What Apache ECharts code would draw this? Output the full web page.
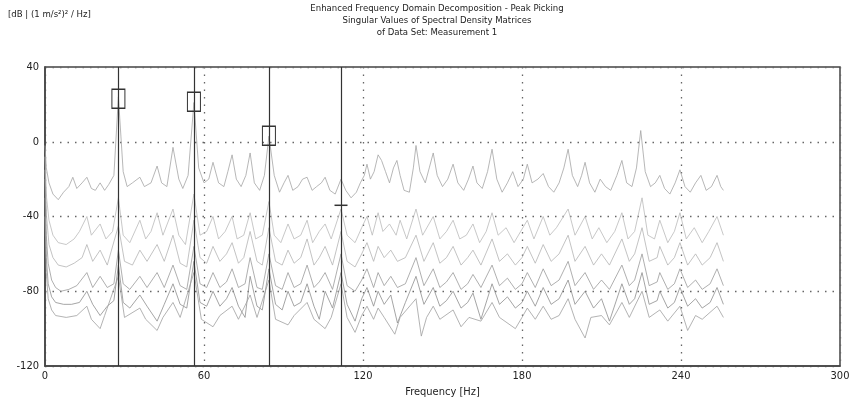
<!DOCTYPE html>
<html>
<head>
<meta charset="utf-8">
<script src="https://cdn.jsdelivr.net/npm/echarts@6.0.0/dist/echarts.min.js"></script>
<style>
  html, body { margin: 0; padding: 0; background: #fff; }
  #chart { width: 853px; height: 403px; }
</style>
</head>
<body>
<div id="chart"></div>
<script>
var FONT = '"Liberation Sans Narrow", "DejaVu Sans Condensed", "Liberation Sans", sans-serif';

var titleLines = [
  "Enhanced Frequency Domain Decomposition - Peak Picking",
  "Singular Values of Spectral Density Matrices",
  "of Data Set: Measurement 1"
];
var yUnit = "[dB | (1 m/s\u00b2)\u00b2 / Hz]";
var xName = "Frequency [Hz]";

// picked peaks [Hz, dB]
var pickedFreqs = [27.7, 56.2, 84.5, 111.7];
var pickedBoxes = [[27.7, 23], [56.2, 21.4], [84.5, 3.2]];
var pickedTick = [111.7, -34];

// singular values, [Hz, dB]
var sv1 = [[0,-2],[0.5,-14],[1.5,-22],[3,-28],[5,-31],[7,-27],[9,-24],[10.5,-19],[12,-25],[14,-22],[15.8,-19],[17.5,-25],[19,-26],[20.8,-22],[22.5,-26],[24,-23],[26,-18],[27.7,24],[29.5,-16],[31,-24],[33,-22],[35.8,-19],[37.5,-24],[40,-22],[42.3,-13],[44,-22],[46,-24],[48.3,-3],[50.5,-20],[52,-25],[54,-18],[56.2,21],[58,-14],[60,-22],[61.8,-20],[63.4,-11],[65.5,-22],[67.5,-24],[69,-16],[70.6,-7],[72.2,-20],[74,-24],[75.8,-18],[77.4,-6],[79,-22],[81,-26],[82.8,-18],[84.5,3],[86.5,-18],[88.5,-27],[90.2,-22],[91.7,-18],[93.5,-26],[95.5,-24],[97.2,-20],[98.9,-19],[100.8,-26],[102.5,-24],[104.3,-22],[105.7,-19],[107.5,-26],[109.5,-28],[111.7,-20],[113.5,-26],[115.5,-30],[117.5,-27],[119,-22],[120.5,-18],[121.5,-12],[122.8,-20],[124.2,-16],[125.7,-7],[127,-10],[128.5,-16],[130,-22],[131.5,-14],[132.8,-10],[134,-18],[135.5,-26],[137.5,-27],[139,-14],[140,-2],[141.5,-16],[143.5,-22],[145,-14],[146.5,-6],[148,-18],[150,-24],[152,-20],[154,-12],[155.8,-22],[158,-26],[159.8,-20],[161.5,-13],[163,-22],[165,-25],[167,-16],[168.7,-4],[170.5,-20],[172.5,-27],[174.5,-22],[176.5,-16],[178.5,-24],[180.5,-20],[182,-12],[183.8,-22],[186,-20],[188,-17],[190,-24],[192,-27],[194,-22],[195.8,-14],[197.4,-4],[199,-18],[201,-24],[202.5,-18],[203.8,-11],[205.5,-22],[207.5,-27],[209.5,-20],[211.5,-24],[213.5,-26],[215.8,-18],[217.7,-10],[219.5,-22],[221.5,-24],[223.2,-14],[224.8,6],[226.5,-16],[228.5,-24],[230.3,-22],[232,-18],[233.8,-25],[235.8,-28],[237.8,-22],[239.6,-15],[241.5,-24],[243.5,-27],[245.5,-22],[247.5,-18],[249.5,-26],[251.5,-24],[253.6,-18],[255,-24],[256,-26]];

var sv2 = [[0,-8],[0.6,-30],[1.5,-42],[3,-50],[5,-54],[8,-55],[11,-52],[13,-48],[15.8,-40],[17.5,-50],[20.8,-44],[23,-52],[25.5,-48],[27.7,-30],[29.5,-50],[32,-54],[35.8,-42],[38,-52],[40,-48],[42.3,-38],[44.5,-50],[48.3,-36],[50.5,-50],[53,-55],[56.2,-28],[58.5,-50],[61,-48],[63.4,-40],[65.5,-52],[68,-48],[70.6,-40],[72.5,-52],[75,-50],[77.4,-38],[79.5,-52],[82,-50],[84.5,-32],[86.5,-50],[89,-54],[91.7,-44],[94,-52],[96.5,-50],[98.9,-42],[101,-54],[103.5,-48],[105.7,-44],[108,-52],[111.7,-36],[114,-50],[117,-54],[119.5,-46],[121.5,-40],[123.5,-50],[125.7,-38],[127.5,-48],[130,-44],[132.5,-50],[134,-42],[136.5,-52],[140,-36],[142.5,-50],[146.5,-40],[149,-52],[151.5,-48],[154,-42],[156.5,-52],[159,-50],[161.5,-44],[164,-54],[166.5,-48],[168.7,-38],[171,-50],[174,-46],[177,-54],[179.5,-48],[182,-42],[184.5,-52],[188,-40],[190.5,-50],[193,-46],[197.4,-36],[200,-50],[203.8,-40],[206.5,-52],[209,-46],[212,-54],[215,-48],[217.7,-38],[220,-52],[222.5,-48],[225.3,-30],[227.5,-50],[230,-52],[232,-42],[235,-54],[237.5,-48],[239.6,-38],[242,-52],[245,-46],[248,-54],[250.5,-48],[253.6,-40],[256,-50]];

var sv3 = [[0,-15],[0.6,-40],[1.5,-55],[3,-62],[5,-66],[8,-67],[11,-65],[14,-62],[15.8,-55],[18,-64],[20.8,-58],[23.5,-66],[27.7,-45],[30,-64],[33,-66],[35.8,-58],[38.5,-64],[42.3,-55],[45,-64],[48.3,-50],[51,-65],[53.5,-67],[56.2,-42],[58.5,-62],[61,-65],[63.4,-56],[66,-64],[68.5,-60],[70.6,-54],[73,-65],[75,-62],[77.4,-48],[80,-64],[82,-66],[84.5,-46],[87,-64],[89.5,-66],[91.7,-58],[94,-65],[96.5,-62],[98.9,-52],[101.5,-66],[103.5,-62],[105.7,-56],[108.5,-66],[111.7,-48],[114,-64],[117,-67],[119.5,-60],[121.5,-54],[124,-64],[125.7,-56],[128,-62],[130.5,-58],[133,-64],[136,-62],[140,-50],[143,-64],[146.5,-54],[149,-65],[151.5,-62],[154,-56],[157,-66],[159.5,-62],[161.5,-58],[164.5,-66],[168.7,-52],[171.5,-64],[174.5,-60],[177.5,-66],[180,-62],[182,-56],[185,-65],[188,-55],[191,-64],[194,-60],[197.4,-50],[200,-64],[203.8,-56],[207,-66],[210,-60],[213,-66],[217.7,-52],[220.5,-64],[222.5,-60],[225.3,-46],[228,-64],[231,-62],[232,-56],[235,-66],[237.5,-62],[239.6,-54],[242.5,-66],[245.5,-60],[248,-66],[251,-62],[253.6,-54],[256,-64]];

var sv4 = [[0,-20],[0.5,-50],[1.2,-65],[2.5,-74],[4,-78],[6,-80],[9,-79],[12,-77],[15.8,-70],[18,-78],[20.8,-72],[23.5,-78],[26,-76],[27.7,-58],[29.5,-76],[32,-79],[35.8,-72],[38.5,-78],[42.3,-70],[45,-78],[48.3,-66],[51,-77],[53.5,-79],[56.2,-56],[58.5,-76],[61,-78],[63.4,-70],[66,-78],[68.5,-75],[70.6,-68],[73,-78],[75.5,-76],[77.4,-62],[80,-78],[82,-79],[84.5,-60],[87,-77],[89.5,-79],[91.7,-70],[94,-78],[96.5,-76],[98.9,-66],[101.5,-78],[103.5,-75],[105.7,-70],[108.5,-79],[111.7,-60],[114,-77],[117,-80],[119.5,-74],[121.5,-68],[124,-78],[125.7,-70],[128,-77],[130.5,-72],[133,-78],[136,-76],[140,-62],[143,-77],[146.5,-68],[149,-78],[151.5,-75],[154,-70],[157,-79],[159.5,-76],[161.5,-71],[164.5,-78],[168.7,-66],[171.5,-77],[174.5,-73],[177.5,-79],[180,-76],[182,-70],[185,-78],[188,-68],[191,-77],[194,-74],[197.4,-64],[200,-77],[203.8,-70],[207,-79],[210,-74],[213,-79],[217.7,-66],[220.5,-77],[222.5,-74],[225.3,-60],[228,-77],[231,-75],[232,-70],[235,-79],[237.5,-76],[239.6,-68],[242.5,-78],[245.5,-74],[248,-79],[251,-76],[253.6,-68],[256,-77]];

var sv5 = [[0,-30],[0.5,-62],[1.2,-76],[2.5,-83],[4,-86],[7,-87],[10,-87],[13,-86],[15.8,-80],[18,-87],[20.8,-93],[23.5,-88],[26,-85],[27.7,-66],[29.5,-86],[32,-89],[35.8,-82],[38.5,-88],[42.3,-96],[45,-87],[48.3,-76],[51,-87],[53.5,-89],[56.2,-64],[58.5,-86],[61,-88],[63.4,-80],[66,-88],[68.5,-84],[70.6,-78],[73,-88],[75.5,-94],[77.4,-72],[80,-88],[82,-90],[84.5,-68],[87,-87],[89.5,-90],[91.7,-80],[94,-88],[96.5,-86],[98.9,-76],[101.5,-88],[103.5,-95],[105.7,-80],[108.5,-89],[111.7,-70],[114,-87],[117,-96],[119.5,-84],[121.5,-78],[124,-88],[125.7,-80],[128,-87],[130.5,-82],[133,-97],[136,-86],[140,-72],[143,-87],[146.5,-78],[149,-88],[151.5,-85],[154,-80],[157,-89],[159.5,-86],[161.5,-81],[164.5,-95],[168.7,-76],[171.5,-87],[174.5,-83],[177.5,-89],[180,-86],[182,-80],[185,-88],[188,-78],[191,-87],[194,-84],[197.4,-74],[200,-87],[203.8,-80],[207,-89],[210,-84],[213,-96],[217.7,-76],[220.5,-87],[222.5,-84],[225.3,-70],[228,-87],[231,-85],[232,-80],[235,-89],[237.5,-86],[239.6,-78],[242.5,-88],[245.5,-84],[248,-89],[251,-86],[253.6,-78],[256,-87]];

var sv6 = [[0,-40],[0.5,-70],[1.2,-84],[2.5,-90],[4,-93],[8,-94],[12,-93],[15.8,-88],[17.5,-95],[20.8,-100],[22.5,-93],[27.7,-72],[30,-94],[35.8,-89],[38,-95],[42.3,-101],[44.5,-94],[48.3,-86],[51,-94],[56.2,-70],[59,-95],[63.4,-99],[66,-93],[70.6,-88],[73,-95],[77.4,-82],[80,-94],[84.5,-74],[87,-95],[91.7,-98],[94,-93],[98.9,-86],[101.5,-95],[105.7,-100],[108,-94],[111.7,-76],[114,-94],[117,-102],[119.5,-93],[121.5,-88],[124,-95],[125.7,-89],[128,-94],[132,-103],[134,-94],[140,-84],[142,-104],[144,-94],[146.5,-88],[149,-95],[154,-90],[157,-99],[160,-94],[164.5,-96],[168.7,-86],[171.5,-94],[177.5,-100],[180,-94],[182,-89],[185,-95],[188,-88],[191,-95],[194,-93],[197.4,-84],[200,-95],[203.8,-105],[206,-94],[210,-93],[213,-98],[217.7,-86],[220.5,-94],[225.3,-80],[228,-94],[232,-90],[235,-96],[239.6,-88],[242.5,-101],[245.5,-93],[248,-95],[253.6,-88],[256,-94]];

var svSeries = [sv1, sv2, sv3, sv4, sv5, sv6];
var svColors = ["#a4a4a4", "#bababa", "#b4b4b4", "#9a9a9a", "#8e8e8e", "#a0a0a0"];

var chart = echarts.init(document.getElementById("chart"), null, {renderer: "canvas"});

var series = svSeries.map(function (d, i) {
  return {
    type: "line",
    data: d,
    showSymbol: false,
    silent: true,
    z: 2,
    lineStyle: {color: svColors[i], width: 0.8}
  };
});

// peak picking marks
series.push({
  type: "line",
  data: [],
  silent: true,
  z: 5,
  markLine: {
    symbol: "none",
    silent: true,
    label: {show: false},
    lineStyle: {color: "#333", width: 1.2, type: "solid"},
    data: pickedFreqs.map(function (f) { return {xAxis: f}; })
  },
  markPoint: {
    silent: true,
    label: {show: false},
    data: pickedBoxes.map(function (p) {
      return {
        coord: p, symbol: "rect", symbolSize: [13, 19],
        itemStyle: {color: "rgba(0,0,0,0)", borderColor: "#333", borderWidth: 1.2}
      };
    }).concat([{
      coord: pickedTick, symbol: "rect", symbolSize: [13, 1.5],
      itemStyle: {color: "#333"}
    }])
  }
});

chart.setOption({
  animation: false,
  backgroundColor: "#fff",
  graphic: [
    {
      type: "text", left: 8, top: 10,
      style: {text: yUnit, font: "9.5px " + FONT, fill: "#222"}
    },
    {
      type: "text", x: 437, y: 3,
      style: {
        text: titleLines.join("\n"), font: "9.5px " + FONT, fill: "#222",
        textAlign: "center", lineHeight: 12
      }
    }
  ],
  grid: {
    left: 45, right: 13, top: 67, bottom: 37,
    show: true, borderColor: "#444", borderWidth: 1.5
  },
  xAxis: {
    type: "value", min: 0, max: 300, interval: 60,
    name: xName, nameLocation: "middle", nameGap: 20,
    nameTextStyle: {fontFamily: FONT, fontSize: 11, color: "#222"},
    axisLine: {show: true, onZero: false, lineStyle: {color: "#444", width: 1.5}},
    axisTick: {show: false},
    axisLabel: {fontFamily: FONT, fontSize: 11, color: "#222", margin: 5},
    splitLine: {show: true, lineStyle: {color: "#666", width: 1.3, type: [1.5, 6]}}
  },
  yAxis: {
    type: "value", min: -120, max: 40, interval: 40,
    axisLine: {show: true, onZero: false, lineStyle: {color: "#444", width: 1.5}},
    axisTick: {show: false},
    axisLabel: {fontFamily: FONT, fontSize: 11, color: "#222", margin: 6},
    splitLine: {show: true, lineStyle: {color: "#666", width: 1.3, type: [1.5, 6]}}
  },
  series: series
});
</script>
</body>
</html>
